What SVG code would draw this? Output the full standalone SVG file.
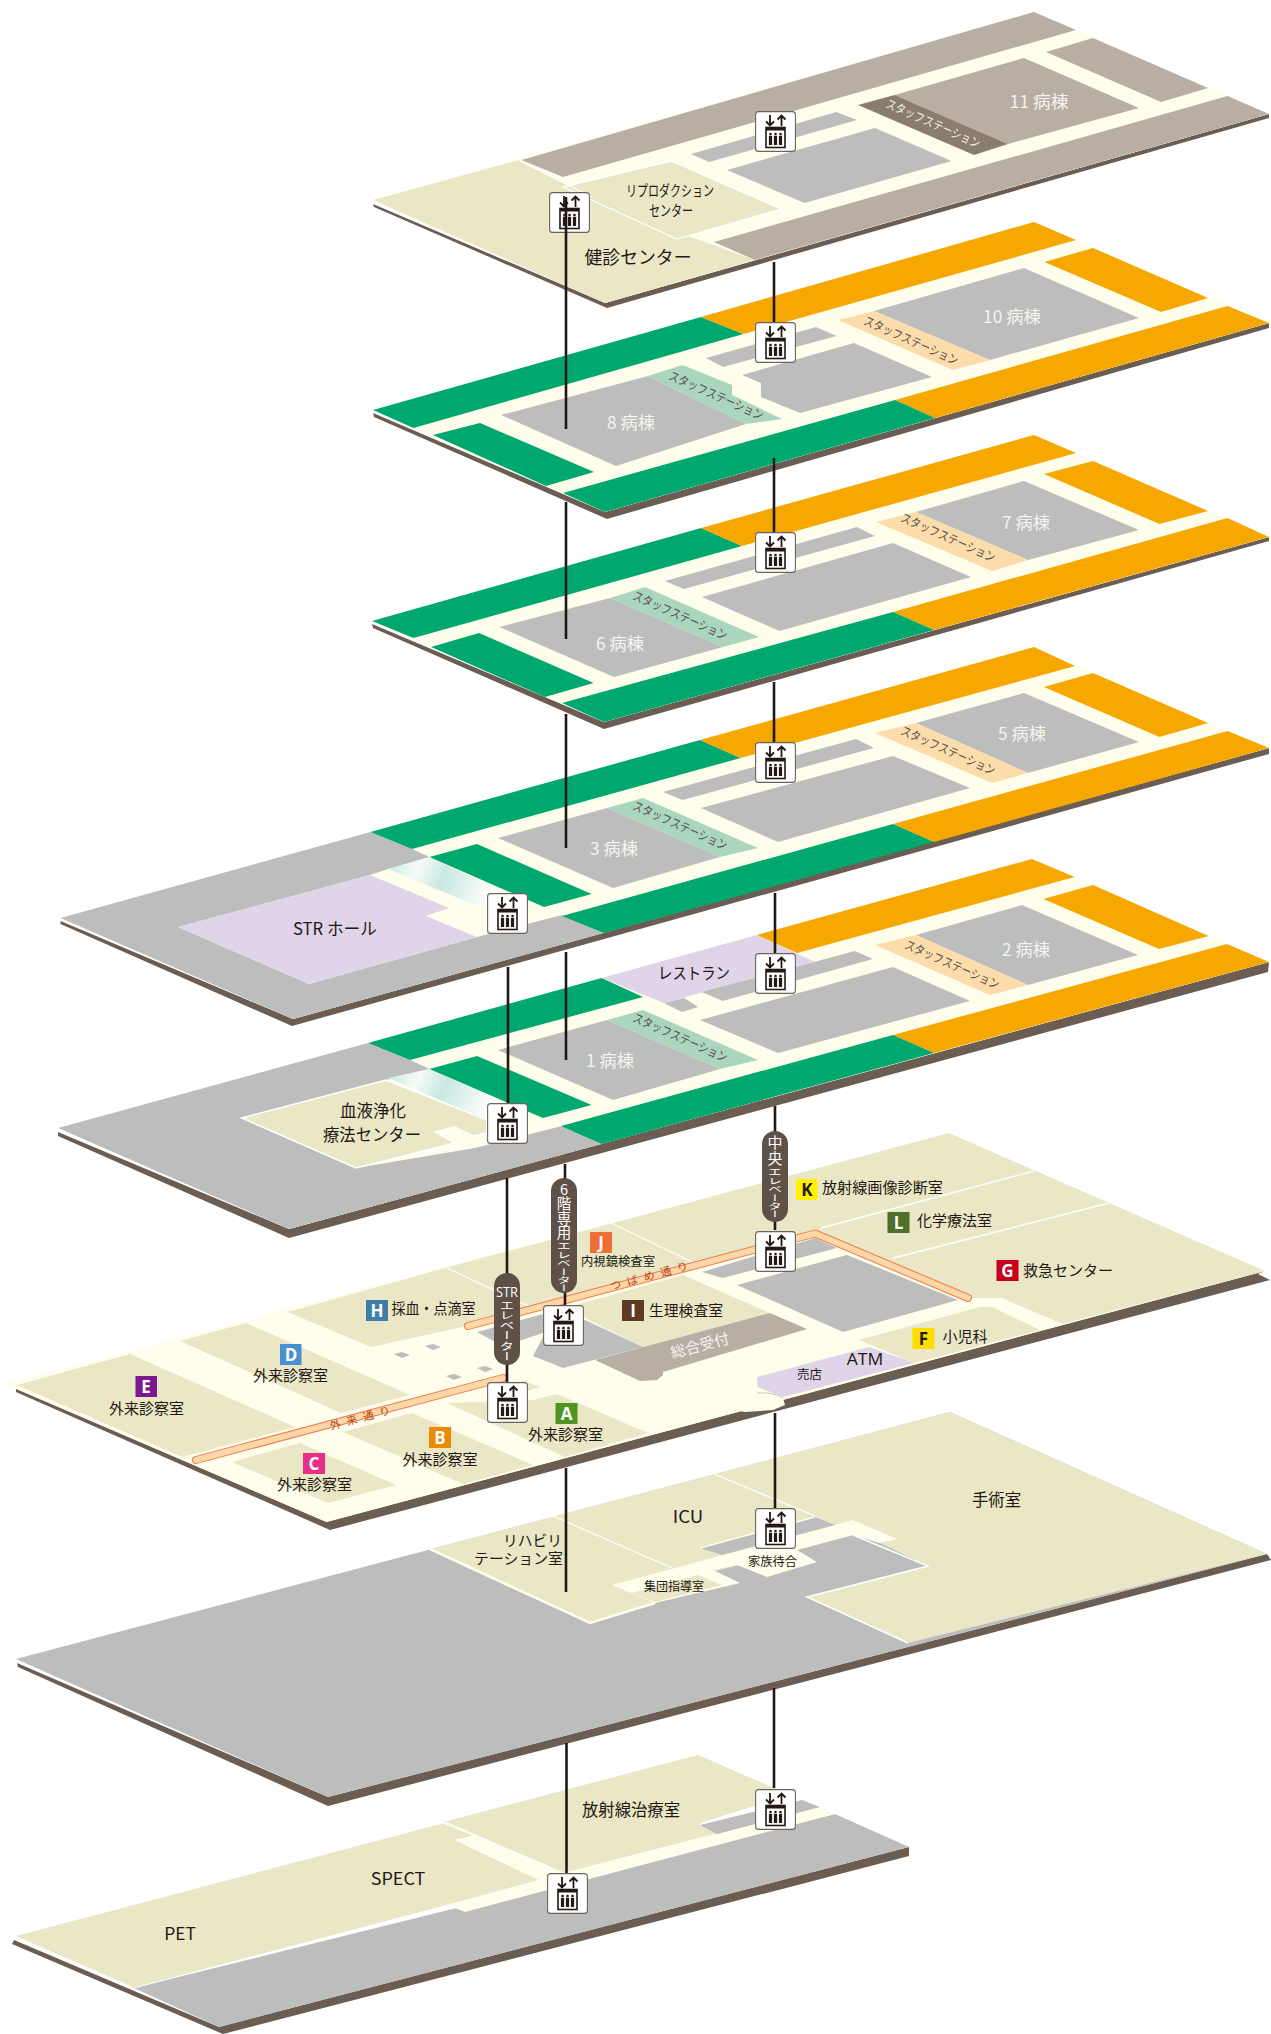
<svg xmlns="http://www.w3.org/2000/svg" xmlns:xlink="http://www.w3.org/1999/xlink" width="1271" height="2034" viewBox="0 0 1271 2034">
<style>
text{font-family:"Noto Sans CJK JP","Noto Sans",sans-serif;fill:#231815;text-anchor:middle}
.w{fill:#f4f4f0}
.s{fill:#6b5d52}
.b{fill:#fffdec}
.t{fill:#e9e7c5}
.g{fill:#bcbebd}
.o{fill:#f6a800}
.n{fill:#00a870}
.l{fill:#dfd4e8}
.lo{fill:#fcdcaa}
.lg{fill:#a9d6bc}
.p{fill:#b9aea4}
.wl{fill:none;stroke:#fff;stroke-width:1.3}
.st{fill:#55504a;font-size:12.5px}
.c{fill:none;stroke:#231815;stroke-width:2.6}
.pill{fill:#5f5048}
.pt{fill:#fff;writing-mode:vertical-rl;text-orientation:upright;text-anchor:start}
.mk{fill:#fff;font-size:17px;font-weight:700;font-family:"Open Sans","Noto Sans",sans-serif}
.lb{font-size:15px}
.road{fill:none;stroke:#f07c4c;stroke-width:8;stroke-linecap:round;stroke-linejoin:round}
.roadin{fill:none;stroke:#fcd7a8;stroke-width:6;stroke-linecap:round;stroke-linejoin:round}
.rt{fill:#b5471a;font-size:11px}
</style>
<defs>
<linearGradient id="glass" x1="0" y1="0" x2="1" y2="0.2">
<stop offset="0" stop-color="#c8e8e2"/><stop offset="0.3" stop-color="#f6fbf8"/><stop offset="0.55" stop-color="#c8e8e2"/><stop offset="1" stop-color="#fbfdfb"/>
</linearGradient>
<symbol id="ev" viewBox="0 0 41 41" width="41" height="41">
<rect x="0.6" y="0.6" width="39.8" height="39.8" rx="3" fill="#fff" stroke="#6b645e" stroke-width="1.1"/>
<path d="M15 4V14M11 10.5L15 14.5L19 10.5M26.5 15V5M22.5 8.5L26.5 4.5L30.5 8.5" fill="none" stroke="#231815" stroke-width="1.8"/>
<rect x="11" y="16.5" width="19" height="20" fill="#fff" stroke="#231815" stroke-width="1.6"/>
<rect x="11" y="16.5" width="19" height="3" fill="#231815"/>
<g fill="#231815"><circle cx="15.5" cy="23" r="1.3"/><circle cx="20.5" cy="23" r="1.3"/><circle cx="25.5" cy="23" r="1.3"/><rect x="13.9" y="24.8" width="3.2" height="9.2"/><rect x="18.9" y="24.8" width="3.2" height="9.2"/><rect x="23.9" y="24.8" width="3.2" height="9.2"/></g>
</symbol>
</defs>

<g id="floor-11">
<polygon class="s" points="373,204 374,207 607,308 1269,118 1269,114 605,303"/>
<polygon class="b" points="373,200 1034,12 1269,114 605,303"/>
<polygon class="t" points="373,200 519,160 596,198 691,237 755,260 605,303"/>
<polygon class="p" points="1034,12 1076,30 563,177 521.5,160"/>
<polygon class="p" points="1093,38 1208,88 1161,102 1046,52"/>
<polygon class="p" points="1227.5,96 1269,114 755,260 714,242"/>
<polygon class="t wl" style="fill:#e9e7c5" points="671,161 781,209 677,239 563,187"/>
<polygon class="p" points="1024,58 1139,108 1008,144 894.6,95"/>
<polygon fill="#8a7c6f" points="894.6,95 1008,144 974,155 858,105"/>
<polygon class="g" points="875,128 951.5,161 804.5,203 727,170"/>
<polygon class="g" points="836.5,112 857,120 709,162 691,154"/>
<path class="wl" d="M520,161L592,197"/>
<text x="1039" y="108" font-size="17" class="w" textLength="59" lengthAdjust="spacingAndGlyphs">11 病棟</text>
<text class="st" transform="translate(933,124) rotate(24)" y="4" textLength="102" lengthAdjust="spacingAndGlyphs" style="fill:#f4efe6">スタッフステーション</text>
<text x="670" y="196" font-size="15" textLength="88" lengthAdjust="spacingAndGlyphs">リプロダクション</text>
<text x="671" y="216" font-size="15" textLength="44" lengthAdjust="spacingAndGlyphs">センター</text>
<text x="638" y="264" font-size="18" textLength="107" lengthAdjust="spacingAndGlyphs">健診センター</text>
</g>

<g id="floor-10-8">
<polygon class="s" points="373,413 374,417 607,519 1269,328 1269,323 605,512"/>
<polygon class="b" points="373,410 1034,222 1269,323 605,512"/>
<polygon class="n" points="373,410 701,317 743.5,334 413.5,428"/>
<polygon class="o" points="701,317 1034,222 1076,240 743.5,334"/>
<polygon class="o" points="1093,248 1208,298 1161,312 1044.5,262"/>
<polygon class="o" points="1227.5,306 1269,323 935,418 895,400"/>
<polygon class="n" points="895,400 935,418 605,512 563,493"/>
<polygon class="n" points="480,423 594,472 546,486 433,435"/>
<polygon class="g" points="1024,268 1139,318 990,360 874,311"/>
<polygon class="lo" points="874,311 990,360 953,370 838,320"/>
<polygon class="g" points="854,343 932,377 800,413 761,397 761,383 742,375"/>
<polygon class="g" points="816,327 836.5,336 723,367 706,358"/>
<polygon class="lg" points="682.5,365 732,385 732,395 782,419 746,424 648,376"/>
<polygon class="g" points="648,376 746,424 616,466 501,415"/>
<text x="1012" y="323" font-size="17" class="w" textLength="58" lengthAdjust="spacingAndGlyphs">10 病棟</text>
<text class="st" transform="translate(911,341) rotate(24)" y="4" textLength="102" lengthAdjust="spacingAndGlyphs">スタッフステーション</text>
<text class="st" transform="translate(716,396) rotate(24)" y="4" textLength="102" lengthAdjust="spacingAndGlyphs">スタッフステーション</text>
<text x="631" y="429" font-size="17" class="w" textLength="48" lengthAdjust="spacingAndGlyphs">8 病棟</text>
</g>

<g id="floor-7-6">
<polygon class="s" points="372,624 373,628 604,729 1269,541 1269,537 604,722"/>
<polygon class="b" points="372,621 1034,435 1269,537 604,722"/>
<polygon class="n" points="372,621 701,528 742,546 413.5,638"/>
<polygon class="o" points="701,528 1034,435 1076,453 742,546"/>
<polygon class="o" points="1093,461 1208,511 1159.5,524 1044,474"/>
<polygon class="o" points="1227.5,518 1269,537 934,630 893,612"/>
<polygon class="n" points="893,612 934,630 604,722 562,703"/>
<polygon class="n" points="479,633 593.6,683 545,697 431,647"/>
<polygon class="g" points="1024,481 1139,530 1028,560 916,512"/>
<polygon class="lo" points="916,512 1028,560 992,571 876,522"/>
<polygon class="g" points="893,543 971,577 779.5,631 702,597"/>
<polygon class="g" points="857,527 875,536 684,589 665,581"/>
<polygon class="lg" points="645,587 759,637 723,647 610,598"/>
<polygon class="g" points="610,598 723,647 614,677 499.5,627"/>
<text x="1026" y="529" font-size="17" class="w" textLength="48" lengthAdjust="spacingAndGlyphs">7 病棟</text>
<text class="st" transform="translate(948,538) rotate(24)" y="4" textLength="102" lengthAdjust="spacingAndGlyphs">スタッフステーション</text>
<text class="st" transform="translate(680,616) rotate(24)" y="4" textLength="102" lengthAdjust="spacingAndGlyphs">スタッフステーション</text>
<text x="620" y="650" font-size="17" class="w" textLength="48" lengthAdjust="spacingAndGlyphs">6 病棟</text>
</g>

<g id="floor-5-3">
<polygon class="s" points="60.5,921 60.5,924 292,1026 1269,754 1269,748 293,1019"/>
<polygon class="b" points="60.5,918 370.5,832 1034,647 1269,748 293,1019"/>
<polygon class="g" points="60.5,918 370.5,832 412,849 429.5,857 388,869 370,875 178,927 309,984 477,937 562,915 604,933 293,1019"/>
<polygon class="l" points="370,875 449,908 425.5,916 477,937 309,984 178,927"/>
<polygon fill="url(#glass)" points="388,869 429.5,857 499,890 487,910"/>
<polygon class="n" points="370.5,832 700,740 740.6,758 412,849"/>
<polygon class="o" points="700,740 1034,647 1075,666 740.6,758"/>
<polygon class="o" points="1093,673 1208,723 1159.5,737 1044,687"/>
<polygon class="o" points="1227.5,731 1269,748 934,842 893,824"/>
<polygon class="n" points="893,824 934,842 604,933 562,916"/>
<polygon class="n" points="477,844 591.6,894 544,907 429.5,857"/>
<polygon class="g" points="1024,693 1139,742 1028,773 916,723"/>
<polygon class="lo" points="916,723 1028,773 992,783 875,733"/>
<polygon class="g" points="893,756 970,788 778,842 701,808"/>
<polygon class="g" points="856,739 874,748 682.5,800 663,792"/>
<polygon class="lg" points="643,798 758,848 720,857 607,808"/>
<polygon class="g" points="607,808 720,857 613,888 498,838"/>
<text x="1022" y="740" font-size="17" class="w" textLength="48" lengthAdjust="spacingAndGlyphs">5 病棟</text>
<text class="st" transform="translate(948,751) rotate(24)" y="4" textLength="102" lengthAdjust="spacingAndGlyphs">スタッフステーション</text>
<text class="st" transform="translate(680,826) rotate(24)" y="4" textLength="102" lengthAdjust="spacingAndGlyphs">スタッフステーション</text>
<text x="614" y="855" font-size="17" class="w" textLength="48" lengthAdjust="spacingAndGlyphs">3 病棟</text>
<text x="335" y="935" font-size="17" textLength="84" lengthAdjust="spacingAndGlyphs">STR ホール</text>
</g>

<g id="floor-2-1">
<polygon class="s" points="58,1132 58,1136 289,1238 1268,972 1269,962 289,1229"/>
<polygon class="b" points="58,1128 368,1043 1032,859 1269,962 289,1229"/>
<polygon class="g" points="58,1128 368,1043 410,1060 429.5,1069 386,1080 241.7,1118 356,1168 475,1148 562,1126 601.5,1144 289,1229"/>
<polygon class="t" stroke="#fff" stroke-width="1.5" points="386,1080 487,1120 487,1133 473,1136 455,1127 435,1132 455,1143 356,1168 241.7,1118"/>
<polygon fill="url(#glass)" points="388,1078 429.5,1069 499,1100 487,1120"/>
<polygon class="n" points="368,1043 601.5,978 643,997 410,1060"/>
<polygon class="l" points="601.5,978 757,935 815,962 664,1003"/>
<polygon class="o" points="757,935 1032,859 1074.6,877 797,953"/>
<polygon class="o" points="1093,885 1208.6,936 1159,949 1043.6,899"/>
<polygon class="o" points="1227,944 1269,962 934,1053 893,1035"/>
<polygon class="n" points="893,1035 934,1053 601.5,1144 561,1126"/>
<polygon class="n" points="477,1056 591.6,1105 543,1118 429.5,1069"/>
<polygon class="g" points="1022,905 1138,955 1028,985 916,935"/>
<polygon class="lo" points="916,935 1028,985 990,995 875,945"/>
<polygon class="g" points="893,967 970,1001 778,1053 700,1020"/>
<polygon class="g" points="855,951 873,959 722.5,1001 702,992"/>
<polygon class="g" points="664,1003 684,998 698,1007 682,1012"/>
<polygon class="lg" points="643,1010 758,1060 720,1069 607,1020"/>
<polygon class="g" points="607,1020 720,1069 613,1100 498,1050"/>
<text x="1026" y="956" font-size="17" class="w" textLength="48" lengthAdjust="spacingAndGlyphs">2 病棟</text>
<text class="st" transform="translate(952,965) rotate(24)" y="4" textLength="102" lengthAdjust="spacingAndGlyphs">スタッフステーション</text>
<text class="st" transform="translate(680,1038) rotate(24)" y="4" textLength="102" lengthAdjust="spacingAndGlyphs">スタッフステーション</text>
<text x="610" y="1067" font-size="17" class="w" textLength="48" lengthAdjust="spacingAndGlyphs">1 病棟</text>
<text x="694" y="979" font-size="16" textLength="72" lengthAdjust="spacingAndGlyphs">レストラン</text>
<text x="373" y="1117" font-size="16.5" textLength="66" lengthAdjust="spacingAndGlyphs">血液浄化</text>
<text x="372" y="1141" font-size="16.5" textLength="98" lengthAdjust="spacingAndGlyphs">療法センター</text>
</g>

<g id="floor-1f">
<polygon class="s" points="16,1389 16,1392 330,1530 1270,1280 1258,1274 1265,1271 326.5,1522"/>
<polygon class="b" points="6,1384 949,1133 1265,1271 326.5,1522"/>
<polygon class="b" points="740,1411 757,1393 783,1398 785,1405 773,1410 745,1412"/>
<polygon class="t" points="288,1312 445,1268 949,1133 1265,1271 1062,1324 1002,1298 972,1298 815,1232 462,1327 371,1347"/>
<path class="wl" d="M447,1268L530,1307M611,1223L692,1262M821,1228L1034,1171M893.5,1258L1109,1203"/>
<polygon class="t" points="565,1308 683,1275 770,1313 643,1347"/>
<polygon class="g" points="477,1332 543,1314 543,1333 503,1346"/>
<polygon class="g" points="533,1356 563,1368 643,1347 585,1320 545,1333"/>
<polygon class="p" points="595,1360 770,1313 807,1329 663,1372 663,1375 657,1380 640,1381"/>
<polygon class="g" points="737,1285 847,1255 958,1300 843,1332"/>
<polygon class="g" points="702,1272 722.5,1278 837,1248 815,1238"/>
<polygon class="t" points="859,1340 980,1307 992,1307 1040,1330 914,1363"/>
<polygon class="l" points="757,1377 869,1347 914,1363 783,1397 757.5,1387"/>
<path d="M757,1393Q775,1392 783,1398" fill="none" stroke="#bcb8ad" stroke-width="0.8"/>
<polygon class="t" points="17,1385 130,1354 295,1427 182,1457"/>
<polygon class="t" points="180,1341 246,1323 410,1395 341,1413"/>
<polygon class="t" points="447,1403 533,1400 557,1394 648,1433 565,1457"/>
<polygon class="t" points="522,1380 540,1387 524,1392"/>
<polygon class="t" points="343,1432 412,1413 533,1465 463,1484"/>
<polygon class="t" points="232,1462 300,1443 396,1485 328,1503"/>
<g class="g"><polygon points="394,1354 402,1352 410,1355 402,1358"/><polygon points="425,1346 433,1344 441,1347 433,1350"/><polygon points="446,1376 454,1374 462,1377 454,1380"/><polygon points="477,1368 485,1366 493,1369 485,1372"/></g>
<path class="road" d="M196,1460L503,1378"/><path class="roadin" d="M196,1460L503,1378"/>
<path class="road" d="M468,1326L815,1233.5L968,1298"/><path class="roadin" d="M468,1326L815,1233.5L968,1298"/>
<text class="rt" transform="translate(360,1418) rotate(-15)" y="4" textLength="62">外来通り</text>
<text class="rt" transform="translate(649,1276) rotate(-15)" y="4" textLength="80">つばめ通り</text>
<text transform="translate(700,1346) rotate(-15)" y="5" font-size="15" class="w" textLength="60" lengthAdjust="spacingAndGlyphs">総合受付</text>
<text x="865" y="1365" font-size="16" textLength="36.5" lengthAdjust="spacingAndGlyphs" style="font-family:'Open Sans',sans-serif">ATM</text>
<text x="809.5" y="1379" style="font-size:12.5px" textLength="25" lengthAdjust="spacingAndGlyphs">売店</text>
</g>

<g id="markers">
<g id="mk-a"><rect x="555.5" y="1403" width="22" height="21" fill="#4f9620"/><text x="566.5" y="1420" class="mk">A</text><text x="565.5" y="1440" class="lb">外来診察室</text></g>
<g id="mk-b"><rect x="429" y="1427" width="22" height="21" fill="#ea8a00"/><text x="440" y="1444" class="mk">B</text><text x="440" y="1465" class="lb">外来診察室</text></g>
<g id="mk-c"><rect x="303" y="1453" width="22" height="21" fill="#e62e8b"/><text x="314" y="1470" class="mk">C</text><text x="314.5" y="1490" class="lb">外来診察室</text></g>
<g id="mk-d"><rect x="280" y="1344" width="21.5" height="21" fill="#4a8fd0"/><text x="291" y="1361" class="mk">D</text><text x="290.5" y="1381" class="lb">外来診察室</text></g>
<g id="mk-e"><rect x="135.5" y="1376" width="21.5" height="21" fill="#7a1a8c"/><text x="146" y="1393" class="mk">E</text><text x="146.5" y="1414" class="lb">外来診察室</text></g>
<g id="mk-f"><rect x="912.4" y="1328" width="22" height="21" fill="#ffdc00"/><text x="923.4" y="1345" class="mk" style="fill:#231815">F</text><text x="965" y="1342" class="lb">小児科</text></g>
<g id="mk-g"><rect x="996.5" y="1260" width="22" height="21" fill="#c8001e"/><text x="1007.5" y="1277" class="mk">G</text><text x="1068" y="1276" class="lb">救急センター</text></g>
<g id="mk-h"><rect x="366" y="1300" width="22" height="21" fill="#3f7ca8"/><text x="377" y="1317" class="mk">H</text><text x="433.5" y="1314" class="lb" textLength="84" lengthAdjust="spacingAndGlyphs">採血・点滴室</text></g>
<g id="mk-i"><rect x="622" y="1300" width="22" height="21" fill="#5f3a22"/><text x="633" y="1317" class="mk">I</text><text x="686" y="1316" class="lb" textLength="74" lengthAdjust="spacingAndGlyphs">生理検査室</text></g>
<g id="mk-j"><rect x="590" y="1232" width="22" height="21" fill="#ef6d37"/><text x="601" y="1249" class="mk">J</text><text x="618" y="1266" style="font-size:12.5px" textLength="74" lengthAdjust="spacingAndGlyphs">内視鏡検査室</text></g>
<g id="mk-k"><rect x="796" y="1179" width="21.5" height="21" fill="#fff100"/><text x="807" y="1196" class="mk" style="fill:#231815">K</text><text x="882.5" y="1193" class="lb" textLength="121" lengthAdjust="spacingAndGlyphs">放射線画像診断室</text></g>
<g id="mk-l"><rect x="887.5" y="1212" width="22" height="21" fill="#4f6f2a"/><text x="898.5" y="1229" class="mk">L</text><text x="954.5" y="1226" class="lb">化学療法室</text></g>
</g>

<g id="floor-b1">
<polygon class="s" points="17,1663 18,1667 328,1806 1271,1560 1267,1554 328,1797"/>
<polygon class="g" points="16,1659 950,1412 1267,1554 328,1797"/>
<polygon class="t" points="430,1549 950,1412 1267,1554 908,1643 807,1597 928,1566 880,1543 853,1535 797,1550 712,1572 655,1603 590,1623"/>
<path d="M430,1549L590,1623L655,1603" fill="none" stroke="#fffdec" stroke-width="2.5"/>
<path d="M908,1643L807,1597L928,1566L853,1535" fill="none" stroke="#fff" stroke-width="1.5"/>
<polygon class="b" points="612,1585 853,1520 897,1539 880,1543 853,1535 797,1550 817,1562 767,1577 737,1565 713,1570 740,1583 655,1603"/>
<polygon class="t" points="632,1593 698,1575 722,1585 655,1602"/>
<polygon class="g" points="700,1548 815,1517 835,1525 722,1555"/>
<path class="wl" d="M553,1516L672,1568M714,1474L815,1516"/>
<path d="M700,1548L815,1517" fill="none" stroke="#fffdec" stroke-width="1.5"/>
<text x="532.5" y="1546" class="lb" textLength="59" lengthAdjust="spacingAndGlyphs">リハビリ</text>
<text x="518.5" y="1564" class="lb" textLength="89" lengthAdjust="spacingAndGlyphs">テーション室</text>
<text x="688" y="1523" font-size="17" textLength="30.5" lengthAdjust="spacingAndGlyphs">ICU</text>
<text x="996.5" y="1506" font-size="16.5" textLength="49" lengthAdjust="spacingAndGlyphs">手術室</text>
<text x="674" y="1591" style="font-size:12.5px" textLength="60" lengthAdjust="spacingAndGlyphs">集団指導室</text>
<text x="772.5" y="1566" style="font-size:12.5px" textLength="49" lengthAdjust="spacingAndGlyphs">家族待合</text>
</g>

<g id="floor-b2">
<polygon class="s" points="14,1940 12,1944 223,2034 909,1856 909,1847 219,2027"/>
<polygon class="g" points="134,1988 835,1814 909,1847 219,2027"/>
<polygon class="t" stroke="#fff" stroke-width="0.8" points="14.6,1936 443,1823 475,1836 455,1840 540,1880 448,1905 134,1988"/>
<polygon class="t" points="443,1822 698,1755 790,1795 700,1823 722,1833 565,1873"/>
<path class="wl" d="M445,1822L563,1873M700,1825L790,1800"/>
<polygon class="b" points="818,1807 835,1814 465,1912 448,1905 540,1880 455,1840 475,1835 563,1873"/>
<polygon class="g" points="700,1825 802,1800 820,1807 717,1834"/>
<text x="631" y="1816" font-size="16.5" textLength="98" lengthAdjust="spacingAndGlyphs">放射線治療室</text>
<text x="398" y="1885" font-size="17" textLength="54.5" lengthAdjust="spacingAndGlyphs">SPECT</text>
<text x="180" y="1940" font-size="17" textLength="31.5" lengthAdjust="spacingAndGlyphs">PET</text>
</g>

<use id="ev-top-left" xlink:href="#ev" x="549" y="192"/>

<g id="connectors" class="c">
<path d="M566,197V429M566,502V639M566,714V848M566,952V1060M565,1164V1305M566,1468V1592M566.5,1743V1873"/>
<path d="M774,262V322M774,458V532M774,682V742M775,893V953M775,1106V1230M775,1413V1508M774,1688V1788"/>
<path d="M508,967V1103M507,1178V1382"/>
</g>

<g id="ev-pills">
<g id="pill-6f"><rect x="551" y="1178" width="26" height="115" rx="13" class="pill"/>
<text class="pt" x="564" y="1182" font-size="14.5">6階専用</text>
<text class="pt" transform="translate(564,1242) scale(1,0.6)" font-size="14">エレベーター</text></g>
<g id="pill-str"><rect x="494" y="1273" width="26" height="92" rx="13" class="pill"/>
<text x="507" y="1297" font-size="14" style="fill:#fff;font-family:'Open Sans',sans-serif" textLength="22" lengthAdjust="spacingAndGlyphs">STR</text>
<text class="pt" transform="translate(507,1300) scale(1,0.7)" font-size="14.5">エレベーター</text></g>
<g id="pill-center"><rect x="762" y="1131" width="26" height="91" rx="13" class="pill"/>
<text class="pt" x="775" y="1135" font-size="15" letter-spacing="1">中央</text>
<text class="pt" transform="translate(775,1168) scale(1,0.6)" font-size="14">エレベーター</text></g>
</g>

<g id="elevators">
<use id="ev-11" xlink:href="#ev" x="755" y="111"/>
<use id="ev-10" xlink:href="#ev" x="755" y="322"/>
<use id="ev-7" xlink:href="#ev" x="755" y="532"/>
<use id="ev-5" xlink:href="#ev" x="755" y="742"/>
<use id="ev-2" xlink:href="#ev" x="755" y="953"/>
<use id="ev-str-3" xlink:href="#ev" x="487" y="893"/>
<use id="ev-str-1" xlink:href="#ev" x="487" y="1103"/>
<use id="ev-1f-str" xlink:href="#ev" x="487" y="1382"/>
<use id="ev-1f-6" xlink:href="#ev" x="543" y="1305"/>
<use id="ev-1f-c" xlink:href="#ev" x="755" y="1231"/>
<use id="ev-b1" xlink:href="#ev" x="755" y="1508"/>
<use id="ev-b2-r" xlink:href="#ev" x="755" y="1789"/>
<use id="ev-b2-l" xlink:href="#ev" x="547" y="1873"/>
</g>
</svg>
